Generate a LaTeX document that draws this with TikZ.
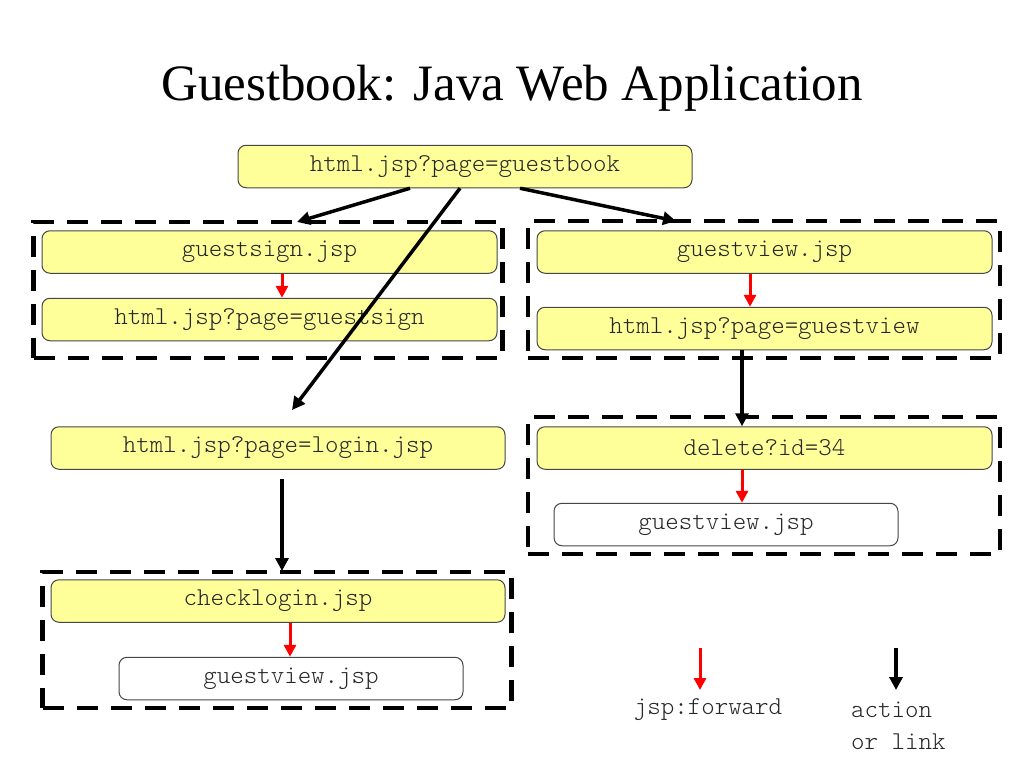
\documentclass[tikz,border=0pt]{standalone}
\usepackage{fontspec}
\setmainfont{Liberation Serif}
\newfontfamily\codefont{Latin Modern Mono Light}
\usetikzlibrary{arrows.meta}
\definecolor{boxyellow}{RGB}{255,255,153}
\definecolor{boxedge}{RGB}{70,70,70}
\definecolor{fwdred}{RGB}{255,0,0}
\tikzset{
  ybox/.style={draw=boxedge, line width=1pt, fill=boxyellow, rounded corners=8pt,
    inner sep=0pt, minimum height=42.5pt, font=\fontsize{25.7}{28}\codefont, text=black!85},
  wbox/.style={ybox, fill=white},
  dbox/.style={draw=black, line width=4.5pt, dash pattern=on 21pt off 13pt, inner sep=0pt},
  blk/.style={draw=black, line width=3.5pt, -{Triangle[length=13pt,width=13pt]}},
  red/.style={draw=fwdred, line width=3pt, -{Triangle[length=12pt,width=12pt]}},
  lgd/.style={font=\fontsize{25.7}{28}\codefont, text=black!85, inner sep=0pt}
}
\begin{document}
\begin{tikzpicture}[x=1pt,y=-1pt]
\useasboundingbox (0,0) rectangle (1024,768);
\node[font=\fontsize{51}{56}\selectfont, inner sep=0pt] (title) at (512,88) {Guestbook: Java Web Application};

% dashed groups
\node[dbox, minimum width=469pt, minimum height=136pt] (boxA) at (268,290) {};
\node[dbox, minimum width=472pt, minimum height=137pt] (boxB) at (764,289.5) {};
\node[dbox, minimum width=472pt, minimum height=137pt] (boxC) at (764,485.5) {};
\node[dbox, minimum width=469pt, minimum height=136pt] (boxD) at (277,640) {};

% nodes
\node[ybox, minimum width=454pt] (top) at (465,166.5) {html.jsp?page=guestbook};
\node[ybox, minimum width=455pt] (gsign) at (269.5,252) {guestsign.jsp};
\node[ybox, minimum width=455pt] (gsignhtml) at (269.5,319.5) {html.jsp?page=guestsign};
\node[ybox, minimum width=455pt] (gview) at (764.5,252) {guestview.jsp};
\node[ybox, minimum width=455pt] (gviewhtml) at (764.5,328.5) {html.jsp?page=guestview};
\node[ybox, minimum width=454pt] (login) at (278,448) {html.jsp?page=login.jsp};
\node[ybox, minimum width=455pt] (del) at (764.5,448) {delete?id=34};
\node[wbox, minimum width=344pt] (gvA) at (726,524.5) {guestview.jsp};
\node[ybox, minimum width=454pt] (chk) at (278,601) {checklogin.jsp};
\node[wbox, minimum width=344pt] (gvB) at (291,678.5) {guestview.jsp};

% connectors
\coordinate (toA) at (297,222);
\coordinate (toLogin) at (292,410);
\coordinate (toB) at (676,221);
\coordinate (chkIn) at (282,571);
\draw[blk] ([xshift=-55pt]top.south) -- (toA);
\draw[blk] ([xshift=-5pt]top.south) -- (toLogin);
\draw[blk] ([xshift=55pt]top.south) -- (toB);
\draw[blk] ([xshift=-22.5pt]gviewhtml.south) -- ([xshift=-22.5pt]del.north);
\draw[blk] ([xshift=4pt,yshift=-9pt]login.south) -- (chkIn);

\draw[red] ([xshift=12.5pt]gsign.south) -- ([xshift=12.5pt]gsignhtml.north);
\draw[red] ([xshift=-14.5pt]gview.south) -- ([xshift=-14.5pt]gviewhtml.north);
\draw[red] ([xshift=-22.5pt]del.south) -- ([xshift=-22.5pt]del.south |- gvA.north);
\draw[red] ([xshift=12pt]chk.south) -- ([xshift=12pt]chk.south |- gvB.north);

% legend
\node[lgd] (fwd) at (708,710) {jsp:forward};
\node[lgd, anchor=west] (act) at (851,710) {action};
\node[lgd, anchor=west] (orl) at (851,742) {or link};
\coordinate (fwdtop) at (700,648);
\coordinate (acttop) at (896,648);
\draw[red] (fwdtop) -- (700,690);
\draw[blk] (acttop) -- (896,690);
\end{tikzpicture}
\end{document}
